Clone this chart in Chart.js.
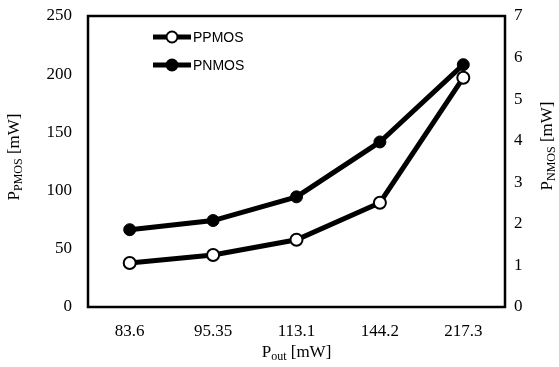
<!DOCTYPE html>
<html>
<head>
<meta charset="utf-8">
<script src="https://cdn.jsdelivr.net/npm/chart.js@4/dist/chart.umd.min.js"></script>
<style>
  body { margin: 0; background: #fff; }
  canvas { display: block; }
</style>
</head>
<body>
<canvas id="powerChart" width="559" height="367"></canvas>
<script>
// data
const poutLabels = ['83.6', '95.35', '113.1', '144.2', '217.3'];
const pPmos = [37.8, 44.7, 57.8, 89.6, 197];
const pNmos = [1.86, 2.08, 2.65, 3.97, 5.83];

const serif = "'Liberation Serif', 'Times New Roman', serif";
const sans = "'Liberation Sans', Arial, sans-serif";

// draws "P" + subscript + rest, centred on (x, y), optionally rotated
function drawSubText(ctx, x, y, angle, main, sub, rest) {
    const bigFont = '17px ' + serif;
    const smallFont = '12px ' + serif;
    ctx.save();
    ctx.translate(x, y);
    ctx.rotate(angle);
    ctx.fillStyle = '#000';
    ctx.textBaseline = 'alphabetic';
    ctx.textAlign = 'left';
    ctx.font = bigFont;
    const w1 = ctx.measureText(main).width;
    const w3 = ctx.measureText(rest).width;
    ctx.font = smallFont;
    const w2 = ctx.measureText(sub).width;
    let cx = -(w1 + w2 + w3) / 2;
    ctx.font = bigFont;
    ctx.fillText(main, cx, 5);
    cx += w1;
    ctx.font = smallFont;
    ctx.fillText(sub, cx, 8);
    cx += w2;
    ctx.font = bigFont;
    ctx.fillText(rest, cx, 5);
    ctx.restore();
}

const decorations = {
    id: 'decorations',
    afterDraw(chart) {
        const ctx = chart.ctx;
        const a = chart.chartArea;
        // frame
        ctx.save();
        ctx.strokeStyle = '#000';
        ctx.lineWidth = 2.5;
        ctx.strokeRect(a.left, a.top, a.right - a.left, a.bottom - a.top);
        ctx.restore();

        // axis titles
        drawSubText(ctx, (a.left + a.right) / 2, 352, 0, 'P', 'out', ' [mW]');
        drawSubText(ctx, 14, 157, -Math.PI / 2, 'P', 'PMOS', ' [mW]');
        drawSubText(ctx, 547, 146, -Math.PI / 2, 'P', 'NMOS', ' [mW]');

        // legend inside the plot
        const items = [
            { label: 'PPMOS', fill: '#fff', y: 37 },
            { label: 'PNMOS', fill: '#000', y: 65 }
        ];
        items.forEach(function (item) {
            ctx.save();
            ctx.strokeStyle = '#000';
            ctx.lineWidth = 5;
            ctx.beginPath();
            ctx.moveTo(153, item.y);
            ctx.lineTo(191, item.y);
            ctx.stroke();
            ctx.beginPath();
            ctx.arc(172, item.y, 5.5, 0, Math.PI * 2);
            ctx.fillStyle = item.fill;
            ctx.fill();
            ctx.lineWidth = 2;
            ctx.stroke();
            ctx.fillStyle = '#000';
            ctx.font = '14px ' + sans;
            ctx.textBaseline = 'middle';
            ctx.fillText(item.label, 193, item.y + 1);
            ctx.restore();
        });
    }
};

new Chart(document.getElementById('powerChart'), {
    type: 'line',
    data: {
        labels: poutLabels,
        datasets: [
            {
                label: 'PPMOS',
                data: pPmos,
                yAxisID: 'yLeft',
                borderColor: '#000',
                borderWidth: 5,
                pointRadius: 6,
                pointBorderWidth: 2,
                pointBackgroundColor: '#fff',
                pointBorderColor: '#000',
                tension: 0
            },
            {
                label: 'PNMOS',
                data: pNmos,
                yAxisID: 'yRight',
                borderColor: '#000',
                borderWidth: 5,
                pointRadius: 6,
                pointBorderWidth: 1,
                pointBackgroundColor: '#000',
                pointBorderColor: '#000',
                tension: 0
            }
        ]
    },
    options: {
        responsive: false,
        animation: false,
        devicePixelRatio: 1,
        layout: { padding: { top: 16, left: 0, right: 0, bottom: 0 } },
        plugins: {
            legend: { display: false },
            tooltip: { enabled: false }
        },
        scales: {
            x: {
                offset: true,
                grid: { display: false, drawTicks: false },
                border: { display: false },
                ticks: { color: '#000', font: { family: serif, size: 17 }, padding: 14 },
                afterFit(scale) { scale.height = 60; scale.paddingLeft = 0; scale.paddingRight = 0; }
            },
            yLeft: {
                position: 'left',
                min: 0,
                max: 250,
                grid: { display: false, drawTicks: false },
                border: { display: false },
                ticks: { stepSize: 50, color: '#000', font: { family: serif, size: 17 }, padding: 16 },
                afterFit(scale) { scale.width = 88; scale.paddingTop = 0; scale.paddingBottom = 0; }
            },
            yRight: {
                position: 'right',
                min: 0,
                max: 7,
                grid: { display: false, drawTicks: false },
                border: { display: false },
                ticks: { stepSize: 1, color: '#000', font: { family: serif, size: 17 }, padding: 9 },
                afterFit(scale) { scale.width = 54; scale.paddingTop = 0; scale.paddingBottom = 0; }
            }
        }
    },
    plugins: [decorations]
});
</script>
</body>
</html>
